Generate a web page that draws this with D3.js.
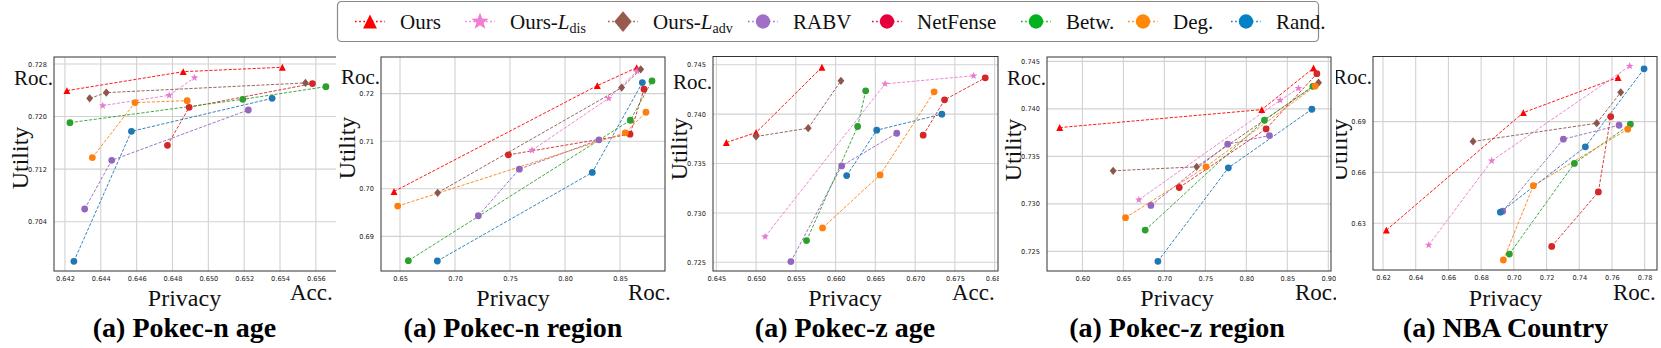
<!DOCTYPE html>
<html><head><meta charset="utf-8">
<script src="https://cdn.jsdelivr.net/npm/d3@7"></script>
<style>body{margin:0;background:#fff}svg{display:block}</style>
</head><body>
<svg id="c" width="1661" height="348"></svg>
<script>
// ---------------- data ----------------
const panelTitles = ["(a) Pokec-n age", "(a) Pokec-n region", "(a) Pokec-z age", "(a) Pokec-z region", "(a) NBA Country"];
const xMetric = ["Acc.", "Roc.", "Acc.", "Roc.", "Roc."];
const yMetric = ["Roc.", "Roc.", "Roc.", "Roc.", "Roc."];
const seriesNames = ["Ours", "Ours-Ldis", "Ours-Ladv", "RABV", "NetFense", "Betw.", "Deg.", "Rand."];

// tick values
const xTicks1 = [0.642, 0.644, 0.646, 0.648, 0.650, 0.652, 0.654, 0.656];
const yTicks1 = [0.704, 0.712, 0.720, 0.728];
const xTicks2 = [0.65, 0.70, 0.75, 0.80, 0.85];
const yTicks2 = [0.69, 0.70, 0.71, 0.72];
const xTicks3 = [0.645, 0.650, 0.655, 0.660, 0.665, 0.670, 0.675, 0.680];
const yTicks3 = [0.725, 0.730, 0.735, 0.740, 0.745];
const xTicks4 = [0.60, 0.65, 0.70, 0.75, 0.80, 0.85, 0.90];
const yTicks4 = [0.725, 0.730, 0.735, 0.740, 0.745];
const xTicks5 = [0.62, 0.64, 0.66, 0.68, 0.70, 0.72, 0.74, 0.76, 0.78];
const yTicks5 = [0.63, 0.66, 0.69];
const xTickFormats = [".3f", ".2f", ".3f", ".2f", ".2f"];
const yTickFormats = [".3f", ".2f", ".3f", ".3f", ".2f"];

// axis ranges
const xDomains = [[0.64139, 0.65729], [0.6327, 0.8909], [0.64458, 0.68042], [0.5568, 0.9033], [0.61388, 0.78754]];
const yDomains = [[0.6965, 0.72906], [0.68273, 0.72769], [0.72412, 0.74584], [0.72293, 0.74546], [0.60235, 0.72843]];

// series values (order: Ours, Ours-Ldis, Ours-Ladv, RABV, NetFense, Betw., Deg., Rand.)
const pokecNAgeX = [
  [0.64211, 0.6486, 0.65413], [0.64411, 0.64782, 0.64923], [0.64338, 0.64431, 0.65542], [0.6431, 0.64461, 0.65223],
  [0.64772, 0.64893, 0.65581], [0.64228, 0.65192, 0.65656], [0.64353, 0.64591, 0.64882], [0.6425, 0.64571, 0.65356]];
const pokecNAgeY = [
  [0.72394, 0.72683, 0.7275], [0.72166, 0.72323, 0.72592], [0.72277, 0.72364, 0.72511], [0.70593, 0.71334, 0.721],
  [0.71562, 0.7214, 0.72501], [0.71907, 0.72262, 0.72455], [0.71375, 0.72212, 0.72242], [0.69797, 0.71775, 0.72277]];

const pokecNRegionX = [
  [0.64455, 0.8294, 0.8652], [0.77, 0.8397, 0.8655], [0.68424, 0.8515, 0.8688], [0.7212, 0.7585, 0.8309],
  [0.7485, 0.8591, 0.8718], [0.65758, 0.8594, 0.8791], [0.64788, 0.8548, 0.8736], [0.68394, 0.8248, 0.8703]];
const pokecNRegionY = [
  [0.69944, 0.72168, 0.72545], [0.70811, 0.71902, 0.72476], [0.69916, 0.72126, 0.7251], [0.69434, 0.70413, 0.71028],
  [0.70713, 0.71147, 0.72091], [0.6849, 0.7144, 0.72266], [0.69636, 0.71175, 0.71608], [0.68483, 0.70343, 0.72231]];

const pokecZAgeX = [
  [0.64626, 0.650, 0.65828], [0.65113, 0.66622, 0.67735], [0.650, 0.65655, 0.66067], [0.65437, 0.66076, 0.66769],
  [0.67101, 0.6737, 0.67882], [0.65634, 0.66277, 0.66378], [0.65836, 0.66559, 0.67239], [0.66139, 0.66517, 0.67336]];
const pokecZAgeY = [
  [0.73713, 0.73814, 0.74476], [0.7276, 0.74307, 0.74389], [0.73774, 0.73858, 0.74338], [0.72507, 0.73476, 0.73807],
  [0.73787, 0.74145, 0.74368], [0.7272, 0.73875, 0.74236], [0.72848, 0.73385, 0.74226], [0.73378, 0.73838, 0.740]];

const pokecZRegionX = [
  [0.57229, 0.81883, 0.88199], [0.66887, 0.84124, 0.86365], [0.63749, 0.73936, 0.8881], [0.68354, 0.77726, 0.8282],
  [0.71817, 0.82412, 0.88606], [0.6766, 0.82208, 0.88117], [0.65257, 0.75077, 0.884], [0.69209, 0.77807, 0.87995]];
const pokecZRegionY = [
  [0.73803, 0.73992, 0.7443], [0.73043, 0.7409, 0.74216], [0.73348, 0.7339, 0.74276], [0.72983, 0.73628, 0.73719],
  [0.73172, 0.73789, 0.7437], [0.72724, 0.7388, 0.74237], [0.72854, 0.7339, 0.7424], [0.72395, 0.73379, 0.73996]];

const nbaCountryX = [
  [0.62204, 0.70583, 0.76373], [0.64793, 0.68646, 0.77087], [0.67505, 0.75068, 0.76536], [0.69319, 0.73029, 0.76434],
  [0.72316, 0.7517, 0.75924], [0.69727, 0.73702, 0.77127], [0.6936, 0.71194, 0.76964], [0.69176, 0.74375, 0.77963]];
const nbaCountryY = [
  [0.62588, 0.69529, 0.71608], [0.61706, 0.66686, 0.72275], [0.67824, 0.68902, 0.70725], [0.63706, 0.67961, 0.68784],
  [0.61627, 0.64843, 0.69294], [0.61176, 0.66529, 0.68843], [0.60824, 0.65216, 0.68549], [0.63647, 0.6751, 0.72118]];

// ---------------- styles / layout ----------------
const plotColors = ["#ff0000", "#e97ad0", "#8c564b", "#9467bd", "#d62728", "#2ca02c", "#ff7f0e", "#1f77b4"];
const legendColors = ["#ff0000", "#f47cd4", "#985a4e", "#a070c8", "#e6003a", "#00b21e", "#ff8808", "#0480c4"];
const markers = ["triangle", "star", "diamond", "circle", "circle", "circle", "circle", "circle"];

const panelsX = [pokecNAgeX, pokecNRegionX, pokecZAgeX, pokecZRegionX, nbaCountryX];
const panelsY = [pokecNAgeY, pokecNRegionY, pokecZAgeY, pokecZRegionY, nbaCountryY];
const xTicks = [xTicks1, xTicks2, xTicks3, xTicks4, xTicks5];
const yTicks = [yTicks1, yTicks2, yTicks3, yTicks4, yTicks5];

const boxes = [
  {l: 54, r: 339, t: 57, b: 271},
  {l: 381, r: 665, t: 57, b: 271},
  {l: 713, r: 998, t: 56.5, b: 271},
  {l: 1047, r: 1331, t: 57, b: 271},
  {l: 1373, r: 1657, t: 56.5, b: 270}
];
const cells = [[0, 336], [336, 670], [670, 999], [999, 1336], [1336, 1661]];
const labelCenters = [184.5, 513, 845, 1177, 1505.5];
const bottomMetricX = [290, 628, 952, 1295, 1613];
const utilityY = [158, 148, 149, 150, 150];
const topMetricBaseline = [85, 84, 89, 85, 84];

const serif = "'Liberation Serif', 'Times New Roman', serif";
const sans = "'DejaVu Sans', sans-serif";

function markerPath(type, s) {
  if (type === "circle") {
    const r = s;
    return `M${r},0A${r},${r} 0 1,1 ${-r},0A${r},${r} 0 1,1 ${r},0Z`;
  }
  if (type === "triangle") {
    const w = s * 1.05, h = s * 1.05;
    return `M0,${-h}L${w},${h}L${-w},${h}Z`;
  }
  if (type === "diamond") {
    const w = s * 1.05, h = s * 1.25;
    return `M0,${-h}L${w},0L0,${h}L${-w},0Z`;
  }
  if (type === "star") {
    const R = s * 1.25, r = R * 0.42;
    let p = "";
    for (let i = 0; i < 10; i++) {
      const a = -Math.PI / 2 + i * Math.PI / 5;
      const rr = i % 2 === 0 ? R : r;
      p += (i === 0 ? "M" : "L") + (rr * Math.cos(a)).toFixed(2) + "," + (rr * Math.sin(a)).toFixed(2);
    }
    return p + "Z";
  }
}

const svg = d3.select("#c");
const defs = svg.append("defs");

// ---------------- panels ----------------
panelTitles.forEach((title, p) => {
  const bx = boxes[p];
  defs.append("clipPath").attr("id", "cell" + p)
    .append("rect").attr("x", cells[p][0]).attr("y", 44).attr("width", cells[p][1] - cells[p][0]).attr("height", 304);
  defs.append("clipPath").attr("id", "plot" + p)
    .append("rect").attr("x", bx.l).attr("y", bx.t).attr("width", bx.r - bx.l).attr("height", bx.b - bx.t);

  const g = svg.append("g").attr("clip-path", `url(#cell${p})`);
  const x = d3.scaleLinear().domain(xDomains[p]).range([bx.l, bx.r]);
  const y = d3.scaleLinear().domain(yDomains[p]).range([bx.b, bx.t]);

  // grid
  const grid = g.append("g");
  grid.selectAll("line.gx").data(xTicks[p]).join("line")
    .attr("x1", d => x(d)).attr("x2", d => x(d)).attr("y1", bx.t).attr("y2", bx.b)
    .attr("stroke", "#d2d2d2").attr("stroke-width", 1.1);
  grid.selectAll("line.gy").data(yTicks[p]).join("line")
    .attr("y1", d => y(d)).attr("y2", d => y(d)).attr("x1", bx.l).attr("x2", bx.r)
    .attr("stroke", "#d2d2d2").attr("stroke-width", 1.1);

  // axes via d3.axis (ticks hidden, labels only)
  const xa = g.append("g").attr("transform", `translate(0,${bx.b})`)
    .call(d3.axisBottom(x).tickValues(xTicks[p]).tickFormat(d3.format(xTickFormats[p])).tickSize(0).tickPadding(5));
  const ya = g.append("g").attr("transform", `translate(${bx.l},0)`)
    .call(d3.axisLeft(y).tickValues(yTicks[p]).tickFormat(d3.format(yTickFormats[p])).tickSize(0).tickPadding(7));
  [xa, ya].forEach(a => {
    a.select(".domain").remove();
    a.selectAll("text").attr("font-family", sans).attr("font-size", 6.6).attr("fill", "#222");
  });

  // frame
  g.append("rect").attr("x", bx.l).attr("y", bx.t).attr("width", bx.r - bx.l).attr("height", bx.b - bx.t)
    .attr("fill", "none").attr("stroke", "#333").attr("stroke-width", 1);

  // series
  const pg = g.append("g").attr("clip-path", `url(#plot${p})`);
  seriesNames.forEach((name, s) => {
    const pts = panelsX[p][s].map((v, i) => [v, panelsY[p][s][i]]).sort((a, b) => a[0] - b[0]);
    pg.append("path").datum(pts)
      .attr("d", d3.line().x(d => x(d[0])).y(d => y(d[1])))
      .attr("fill", "none").attr("stroke", plotColors[s]).attr("stroke-width", 1)
      .attr("stroke-dasharray", "3.2,1.6").attr("opacity", 0.9);
  });
  seriesNames.forEach((name, s) => {
    const pts = panelsX[p][s].map((v, i) => [v, panelsY[p][s][i]]);
    const size = markers[s] === "circle" ? 3.4 : (markers[s] === "star" ? 3.2 : 3.3);
    pg.selectAll(null).data(pts).join("path")
      .attr("transform", d => `translate(${x(d[0])},${y(d[1])})`)
      .attr("d", markerPath(markers[s], size))
      .attr("fill", plotColors[s]);
  });

  // labels
  g.append("text").attr("x", bx.l - 1).attr("y", topMetricBaseline[p]).attr("text-anchor", "end")
    .attr("font-family", serif).attr("font-size", 21).attr("fill", "#111").text(yMetric[p]);
  g.append("text").attr("transform", `translate(${bx.l - 26},${utilityY[p]}) rotate(-90)`)
    .attr("text-anchor", "middle").attr("font-family", serif).attr("font-size", 24).attr("fill", "#111").text("Utility");
  g.append("text").attr("x", labelCenters[p]).attr("y", 306).attr("text-anchor", "middle")
    .attr("font-family", serif).attr("font-size", 24).attr("fill", "#111").text("Privacy");
  g.append("text").attr("x", bottomMetricX[p]).attr("y", 300)
    .attr("font-family", serif).attr("font-size", 23).attr("fill", "#111").text(xMetric[p]);
  g.append("text").attr("x", labelCenters[p]).attr("y", 337).attr("text-anchor", "middle")
    .attr("font-family", serif).attr("font-weight", "bold").attr("font-size", 28).attr("fill", "#000").text(title);
});

// ---------------- legend ----------------
const legendX = [370, 480, 623, 763, 887, 1036, 1143, 1246];
const lg = svg.append("g");
lg.append("rect").attr("x", 337.5).attr("y", 1.5).attr("width", 981).attr("height", 40).attr("rx", 4)
  .attr("fill", "#fff").attr("stroke", "#8a8a8a").attr("stroke-width", 1.2);
seriesNames.forEach((name, s) => {
  const cx = legendX[s], cy = 21.5;
  lg.append("line").attr("x1", cx - 15).attr("x2", cx + 15).attr("y1", cy).attr("y2", cy)
    .attr("stroke", legendColors[s]).attr("stroke-width", 1.3).attr("stroke-dasharray", "1.6,2.6");
  const size = markers[s] === "circle" ? 7.2 : (markers[s] === "triangle" ? 6.6 : (markers[s] === "diamond" ? 8.3 : 7.2));
  lg.append("path").attr("transform", `translate(${cx},${cy})`).attr("d", markerPath(markers[s], size))
    .attr("fill", legendColors[s]);
  const t = lg.append("text").attr("x", cx + 30).attr("y", 28.5)
    .attr("font-family", serif).attr("font-size", 21).attr("fill", "#111");
  if (name === "Ours-Ldis" || name === "Ours-Ladv") {
    t.append("tspan").text("Ours-");
    t.append("tspan").attr("font-style", "italic").text("L");
    t.append("tspan").attr("font-size", 14).attr("dy", 4).text(name === "Ours-Ldis" ? "dis" : "adv");
  } else {
    t.text(name);
  }
});
</script>
</body></html>
